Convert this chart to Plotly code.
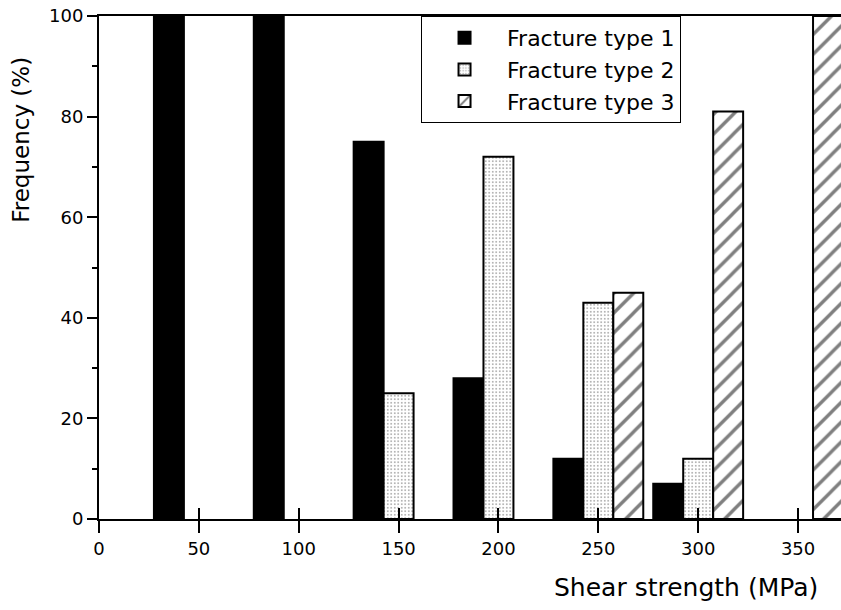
import plotly.graph_objects as go

# Shear strength classes (MPa) and frequency of each fracture type (%)
strength = [50, 100, 150, 200, 250, 300, 350]
type1 = [100, 100, 75, 28, 12, 7, 0]
type2 = [0, 0, 25, 72, 43, 12, 0]
type3 = [0, 0, 0, 0, 45, 81, 100]

x_ticks = [0, 50, 100, 150, 200, 250, 300, 350]
y_ticks = [0, 20, 40, 60, 80, 100]

FONT = "DejaVu Sans"
outline = dict(color="black", width=2)


def bars(values):
    # empty classes get no bar (avoids a zero-height outline on the axis)
    return [v if v else None for v in values]


fig = go.Figure()
fig.add_trace(go.Bar(
    x=strength, y=bars(type1), name="Fracture type 1",
    marker=dict(color="black", line=outline),
))
fig.add_trace(go.Bar(
    x=strength, y=bars(type2), name="Fracture type 2",
    marker=dict(color="white", line=outline,
                pattern=dict(shape=".", size=3.5, solidity=0.18,
                             fgcolor="#333333", bgcolor="white",
                             fillmode="overlay")),
))
fig.add_trace(go.Bar(
    x=strength, y=bars(type3), name="Fracture type 3",
    marker=dict(color="white", line=outline,
                pattern=dict(shape="/", size=14, solidity=0.24,
                             fgcolor="black", bgcolor="white",
                             fillmode="overlay")),
))
# helper trace so the overlaid inner-tick axis is drawn
fig.add_trace(go.Scatter(x=[strength[0]], y=[0], xaxis="x2", mode="markers",
                         marker=dict(opacity=0), showlegend=False,
                         hoverinfo="skip"))

fig.update_layout(
    width=841, height=610,
    margin=dict(l=99, r=0, t=16, b=91, autoexpand=False),
    paper_bgcolor="white", plot_bgcolor="white",
    font=dict(family=FONT, color="black", size=18),
    barmode="group", bargap=0.1, bargroupgap=0,
    showlegend=True,
    legend=dict(x=0.434, y=1, xanchor="left", yanchor="top",
                bgcolor="white", bordercolor="black", borderwidth=1,
                font=dict(family=FONT, size=22), tracegroupgap=0,
                itemwidth=75),
    xaxis=dict(range=[0, 371.5], tickvals=x_ticks,
               ticktext=[str(v) for v in x_ticks],
               showgrid=False, zeroline=False,
               showline=True, linecolor="black", linewidth=2, mirror=True,
               ticks="outside", ticklen=12, tickwidth=2, tickcolor="black",
               tickfont=dict(family=FONT, size=18)),
    xaxis2=dict(matches="x", overlaying="x", anchor="y", side="bottom",
                tickvals=x_ticks, showticklabels=False, showgrid=False,
                zeroline=False, showline=False,
                ticks="inside", ticklen=11, tickwidth=2, tickcolor="black"),
    yaxis=dict(range=[0, 100], tickvals=y_ticks,
               showgrid=False, zeroline=False,
               showline=True, linecolor="black", linewidth=2,
               ticks="outside", ticklen=10, tickwidth=2, tickcolor="black",
               minor=dict(ticks="outside", ticklen=5, tickwidth=2,
                          tickcolor="black", tick0=10, dtick=20),
               tickfont=dict(family=FONT, size=18)),
)

fig.add_annotation(text="Shear strength (MPa)", xref="paper", yref="paper",
                   x=0.791, y=-0.137, xanchor="center", yanchor="middle",
                   showarrow=False, font=dict(family=FONT, size=25))
fig.add_annotation(text="Frequency (%)", xref="paper", yref="paper",
                   x=-0.105, y=0.754, xanchor="center", yanchor="middle",
                   textangle=-90, showarrow=False,
                   font=dict(family=FONT, size=23))

fig.write_html("out.html")
